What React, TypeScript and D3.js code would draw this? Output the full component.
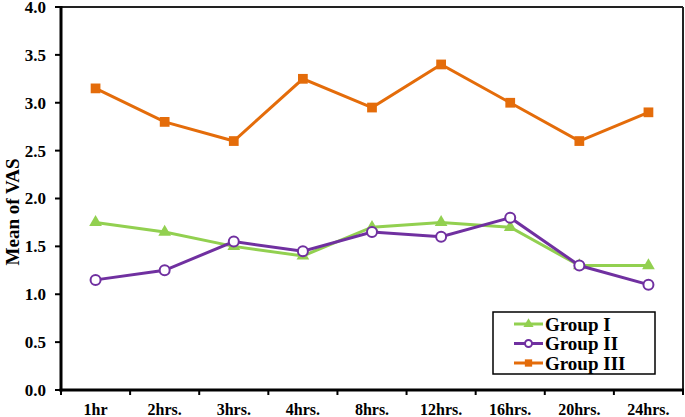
import React from "react";
import * as d3 from "d3";

const categories = ["1hr", "2hrs.", "3hrs.", "4hrs.", "8hrs.", "12hrs.", "16hrs.", "20hrs.", "24hrs."];
const groupI = [1.75, 1.65, 1.5, 1.4, 1.7, 1.75, 1.7, 1.3, 1.3];
const groupII = [1.15, 1.25, 1.55, 1.45, 1.65, 1.6, 1.8, 1.3, 1.1];
const groupIII = [3.15, 2.8, 2.6, 3.25, 2.95, 3.4, 3.0, 2.6, 2.9];
const yTicks = [0, 0.5, 1, 1.5, 2, 2.5, 3, 3.5, 4];

const W = 685, H = 417;
const L = 61, R = 683, T = 7, B = 390;
const FONT = "Times New Roman, Liberation Serif, DejaVu Serif, serif";

const GREEN = "#92d050";
const PURPLE = "#7030a0";
const ORANGE = "#e46c0a";

export default function App() {
  const x = d3.scaleBand<string>().domain(categories).range([L, R]);
  const y = d3.scaleLinear().domain([0, 4]).range([B, T]);
  const cx = (c: string) => (x(c) as number) + x.bandwidth() / 2;
  const line = d3.line<number>().x((_, i) => cx(categories[i])).y((v) => y(v));
  const tri = d3.symbol().type(d3.symbolTriangle).size(70)();
  const sq = d3.symbol().type(d3.symbolSquare).size(95)();

  const series = [
    { name: "Group I", data: groupI, color: GREEN, kind: "tri" },
    { name: "Group II", data: groupII, color: PURPLE, kind: "circle" },
    { name: "Group III", data: groupIII, color: ORANGE, kind: "square" },
  ];

  const marker = (kind: string, color: string, px: number, py: number, key?: any, small?: boolean) => {
    if (kind === "tri") return <path key={key} d={tri as string} transform={`translate(${px},${py}) scale(${small ? 0.8 : 1})`} fill={color} />;
    if (kind === "square") return <path key={key} d={sq as string} transform={`translate(${px},${py}) scale(${small ? 0.75 : 1})`} fill={color} />;
    return <circle key={key} cx={px} cy={py} r={small ? 3.5 : 5} fill="white" stroke={color} strokeWidth={2} />;
  };

  return (
    <svg width={W} height={H} style={{ position: "absolute", left: 0, top: 0, fontFamily: FONT }}>
      <rect x={0} y={0} width={W} height={H} fill="white" />
      <line x1={L} x2={R} y1={T} y2={T} stroke="#222" strokeWidth={2} />
      <line x1={R} x2={R} y1={T} y2={B} stroke="#222" strokeWidth={2} />
      {series.map((s) => (
        <g key={s.name}>
          <path d={line(s.data) as string} fill="none" stroke={s.color} strokeWidth={3} />
          {s.data.map((v, i) => marker(s.kind, s.color, cx(categories[i]), y(v), i))}
        </g>
      ))}
      <line x1={L} x2={L} y1={T - 1} y2={B + 1.5} stroke="#000" strokeWidth={3} />
      <line x1={L - 1.5} x2={R + 1} y1={B} y2={B} stroke="#000" strokeWidth={3} />
      {yTicks.map((t) => (
        <g key={t}>
          <line x1={L - 6} x2={L} y1={y(t)} y2={y(t)} stroke="#000" strokeWidth={2} />
          <text x={46} y={y(t)} dy="0.35em" textAnchor="end" fontSize={17} fontWeight="bold">
            {t.toFixed(1)}
          </text>
        </g>
      ))}
      {categories.map((c, i) => (
        <line key={"t" + i} x1={x(c) as number} x2={x(c) as number} y1={B} y2={B + 5} stroke="#000" strokeWidth={2} />
      ))}
      <line x1={R} x2={R} y1={B} y2={B + 5} stroke="#000" strokeWidth={2} />
      {categories.map((c) => (
        <text key={c} x={cx(c)} y={415} textAnchor="middle" fontSize={16} fontWeight="bold">
          {c}
        </text>
      ))}
      <text transform={`translate(19,212) rotate(-90)`} textAnchor="middle" fontSize={19} fontWeight="bold">
        Mean of VAS
      </text>
      <rect x={493} y={312} width={162} height={62} fill="white" stroke="#000" strokeWidth={1.5} />
      {series.map((s, i) => {
        const ly = 324 + i * 19.5;
        return (
          <g key={"lg" + i}>
            <line x1={514} x2={543} y1={ly} y2={ly} stroke={s.color} strokeWidth={3} />
            {marker(s.kind, s.color, 528.5, ly, undefined, true)}
            <text x={545} y={ly} dy="0.35em" fontSize={19} fontWeight="bold">
              {s.name}
            </text>
          </g>
        );
      })}
    </svg>
  );
}
